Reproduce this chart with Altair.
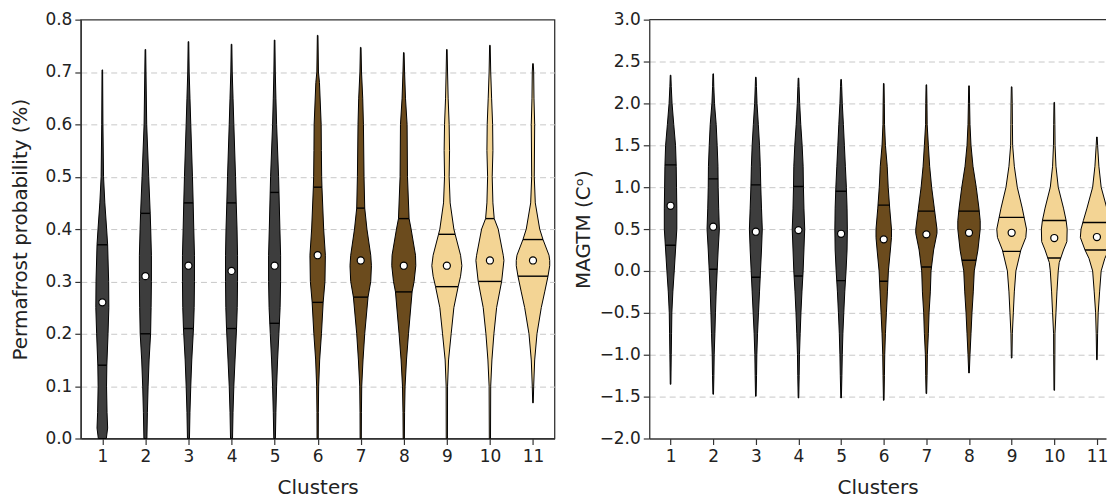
import altair as alt
import numpy as np
import pandas as pd

CLUSTERS = list(range(1, 12))
CLUSTER_COLORS = ["#3d3d3d"] * 5 + ["#6b4b1d"] * 3 + ["#f3d494"] * 3

# ---- Left panel: permafrost probability ----
# violin profiles: (value, half-width in reference pixels)
PF_PROFILES = [
    [(0, 4), (0.02, 5.3), (0.05, 4.7), (0.1, 4.2), (0.14, 4.5), (0.2, 5.7), (0.25, 6.5), (0.3, 6.3), (0.37, 5.3), (0.4, 4.3), (0.45, 2.5), (0.5, 1.2), (0.6, 0.6), (0.704, 0.3)],
    [(0, 1.5), (0.05, 2), (0.1, 2.7), (0.15, 3.7), (0.2, 5.2), (0.25, 5.7), (0.3, 6), (0.35, 6), (0.4, 5.3), (0.43, 4.8), (0.5, 3.3), (0.6, 1.3), (0.7, 0.6), (0.743, 0.3)],
    [(0, 1), (0.05, 1.5), (0.1, 2.3), (0.15, 3.3), (0.21, 5), (0.25, 5.7), (0.3, 6), (0.35, 6), (0.4, 5.3), (0.45, 4.7), (0.5, 4), (0.6, 2.3), (0.65, 1.5), (0.7, 0.7), (0.758, 0.3)],
    [(0, 1), (0.05, 1.5), (0.1, 2.3), (0.15, 3.5), (0.21, 5), (0.25, 5.7), (0.3, 6), (0.35, 6), (0.4, 5.5), (0.45, 4.7), (0.5, 4), (0.6, 2.3), (0.65, 1.5), (0.7, 0.7), (0.753, 0.3)],
    [(0, 0.8), (0.05, 1.3), (0.1, 2), (0.15, 3), (0.2, 4.3), (0.25, 5.5), (0.3, 6), (0.35, 6), (0.4, 5.3), (0.5, 4), (0.6, 2), (0.65, 1.3), (0.7, 0.7), (0.761, 0.3)],
    [(0, 0.6), (0.05, 0.7), (0.1, 1), (0.15, 2), (0.2, 3.8), (0.26, 5.5), (0.3, 7.3), (0.35, 7.7), (0.4, 6), (0.48, 4.3), (0.5, 4), (0.55, 3.7), (0.6, 3.5), (0.68, 1.8), (0.7, 0.8), (0.77, 0.3)],
    [(0, 0.6), (0.05, 0.7), (0.1, 1), (0.15, 2.3), (0.2, 4), (0.27, 7.3), (0.3, 10), (0.33, 10.7), (0.35, 10), (0.4, 6.2), (0.44, 4), (0.5, 3.3), (0.6, 2.7), (0.65, 2), (0.7, 0.8), (0.747, 0.3)],
    [(0, 0.6), (0.05, 0.8), (0.1, 1.3), (0.15, 2.7), (0.2, 4.7), (0.28, 8.3), (0.3, 10.3), (0.33, 12), (0.35, 11.7), (0.4, 7.3), (0.42, 5.3), (0.5, 3.7), (0.6, 3.3), (0.65, 1.7), (0.7, 0.8), (0.737, 0.3)],
    [(0, 0.6), (0.1, 0.7), (0.15, 1.7), (0.2, 4.3), (0.25, 7), (0.29, 11.3), (0.31, 13.7), (0.33, 15), (0.35, 13.7), (0.39, 8.3), (0.4, 7), (0.45, 3.3), (0.5, 2.3), (0.55, 2.7), (0.6, 2.3), (0.65, 1.3), (0.7, 0.7), (0.743, 0.3)],
    [(0, 0.6), (0.1, 0.8), (0.15, 2), (0.2, 4), (0.25, 6.7), (0.3, 11.7), (0.34, 14), (0.35, 13.3), (0.4, 8.3), (0.42, 4.3), (0.45, 3), (0.5, 2.3), (0.55, 3), (0.6, 2.7), (0.65, 1.7), (0.7, 0.8), (0.751, 0.3)],
    [(0.068, 0.3), (0.1, 0.7), (0.15, 1.7), (0.2, 4), (0.25, 8.3), (0.28, 11.7), (0.31, 15), (0.33, 16.7), (0.34, 16.7), (0.35, 16), (0.38, 10), (0.4, 6.7), (0.45, 2.3), (0.5, 1.3), (0.6, 1.7), (0.65, 1), (0.7, 0.7), (0.716, 0.3)],
]
PF_MEDIAN = [0.26, 0.31, 0.33, 0.32, 0.33, 0.35, 0.34, 0.33, 0.33, 0.34, 0.34]
PF_Q1 = [0.14, 0.20, 0.21, 0.21, 0.22, 0.26, 0.27, 0.28, 0.29, 0.30, 0.31]
PF_Q3 = [0.37, 0.43, 0.45, 0.45, 0.47, 0.48, 0.44, 0.42, 0.39, 0.42, 0.38]
PF_TICKS = [0.0, 0.1, 0.2, 0.3, 0.4, 0.5, 0.6, 0.7, 0.8]

# ---- Right panel: MAGTM ----
MT_PROFILES = [
    [(-1.353, 0.3), (-1.0, 0.7), (-0.75, 1), (-0.5, 1.3), (-0.25, 2.3), (0, 3.7), (0.25, 5), (0.5, 6.3), (0.75, 6.3), (1.0, 6), (1.25, 5.7), (1.5, 5), (1.75, 3.2), (2.0, 1.5), (2.2, 0.7), (2.337, 0.3)],
    [(-1.472, 0.3), (-1.25, 0.7), (-1.0, 1), (-0.75, 1.7), (-0.5, 2.3), (-0.25, 3), (0, 4), (0.25, 5), (0.5, 6.2), (0.75, 5.5), (1.0, 5), (1.25, 4.8), (1.5, 4), (1.75, 3), (2.0, 1.3), (2.2, 0.6), (2.353, 0.3)],
    [(-1.496, 0.3), (-1.25, 0.7), (-1.0, 1), (-0.75, 1.7), (-0.5, 2.7), (-0.25, 3.7), (0, 4.7), (0.25, 5.7), (0.5, 6.5), (0.75, 5.7), (1.0, 5), (1.25, 4.5), (1.5, 3.7), (1.75, 2.5), (2.0, 1.2), (2.2, 0.6), (2.313, 0.3)],
    [(-1.516, 0.3), (-1.25, 0.7), (-1.0, 1), (-0.75, 1.7), (-0.5, 2.5), (-0.25, 3.5), (0, 4.7), (0.25, 5.5), (0.5, 6.3), (0.75, 5.5), (1.0, 5), (1.25, 4.7), (1.5, 3.7), (1.75, 2.3), (2.0, 1.2), (2.2, 0.6), (2.302, 0.3)],
    [(-1.516, 0.3), (-1.25, 0.8), (-1.0, 1.2), (-0.75, 1.8), (-0.5, 2.7), (-0.25, 3.7), (0, 5), (0.25, 6), (0.5, 6.3), (0.75, 6), (1.0, 5.3), (1.25, 4.3), (1.5, 3.3), (1.75, 2.3), (2.0, 1.2), (2.2, 0.6), (2.286, 0.3)],
    [(-1.544, 0.3), (-1.25, 0.7), (-1.0, 1), (-0.75, 1.7), (-0.5, 2.7), (-0.25, 3.7), (0, 4.7), (0.25, 6.7), (0.4, 7.8), (0.5, 7.8), (0.75, 6), (1.0, 4.5), (1.25, 3.5), (1.5, 1.7), (1.75, 0.8), (2.0, 0.6), (2.238, 0.3)],
    [(-1.464, 0.3), (-1.25, 0.7), (-1.0, 1), (-0.75, 2), (-0.5, 2.7), (-0.25, 4), (0, 4.7), (0.25, 7.3), (0.45, 10.7), (0.5, 10.7), (0.75, 8), (1.0, 5.3), (1.25, 3.3), (1.5, 2), (1.75, 0.8), (2.0, 0.6), (2.222, 0.3)],
    [(-1.218, 0.3), (-1.0, 1), (-0.75, 2), (-0.5, 3), (-0.25, 4.3), (0, 5.3), (0.25, 9), (0.5, 11.3), (0.6, 11.3), (0.75, 10), (1.0, 7.3), (1.25, 4), (1.5, 2), (1.75, 1), (2.0, 0.6), (2.21, 0.3)],
    [(-1.04, 0.3), (-0.75, 0.7), (-0.5, 1.7), (-0.25, 2.7), (0, 4.3), (0.25, 9.3), (0.4, 14.3), (0.5, 15), (0.75, 10.7), (1.0, 5.7), (1.25, 2.7), (1.5, 1), (1.75, 0.8), (2.0, 0.6), (2.198, 0.3)],
    [(-1.425, 0.3), (-1.0, 0.6), (-0.75, 0.7), (-0.5, 1.7), (-0.25, 2.7), (0, 4), (0.1, 5), (0.25, 9.3), (0.35, 12.7), (0.5, 13), (0.6, 12), (0.75, 9.3), (1.0, 4), (1.25, 1.7), (1.5, 0.8), (1.75, 0.6), (2.012, 0.3)],
    [(-1.06, 0.3), (-0.75, 0.7), (-0.5, 1.3), (-0.25, 2.7), (0, 4.3), (0.15, 8), (0.25, 12), (0.4, 16.7), (0.5, 16), (0.6, 13.7), (0.75, 10), (1.0, 4.3), (1.25, 2), (1.5, 0.7), (1.599, 0.3)],
]
MT_MEDIAN = [0.778, 0.528, 0.468, 0.488, 0.444, 0.377, 0.437, 0.456, 0.456, 0.393, 0.405]
MT_Q1 = [0.306, 0.02, -0.075, -0.06, -0.115, -0.123, 0.048, 0.127, 0.234, 0.155, 0.25]
MT_Q3 = [1.266, 1.099, 1.028, 1.008, 0.952, 0.786, 0.714, 0.714, 0.639, 0.603, 0.579]
MT_TICKS = [-2.0, -1.5, -1.0, -0.5, 0.0, 0.5, 1.0, 1.5, 2.0, 2.5, 3.0]

FONT = "DejaVu Sans"
PX_PER_CLUSTER = 43.0
BORDER = "#333333"


def panel(profiles, medians, q1, q3, ticks, ytitle, width, height, xmax,
          title_pad, framed):
    rows = []
    for c, prof in zip(CLUSTERS, profiles):
        for v, w in prof:
            hw = w / PX_PER_CLUSTER
            rows.append({"cluster": c, "value": v, "lo": c - hw, "hi": c + hw})
    vdf = pd.DataFrame(rows)

    qrows = []
    for c, prof, a, b in zip(CLUSTERS, profiles, q1, q3):
        ys = [p[0] for p in prof]
        ws = [p[1] for p in prof]
        for q in (a, b):
            hw = float(np.interp(q, ys, ws)) / PX_PER_CLUSTER
            qrows.append({"cluster": c, "q": q, "lo": c - hw, "hi": c + hw})
    qdf = pd.DataFrame(qrows)
    mdf = pd.DataFrame({"cluster": CLUSTERS, "median": medians})

    clip = not framed
    lo_t, hi_t = ticks[0], ticks[-1]
    xscale = alt.Scale(domain=[0.5, xmax], nice=False, zero=False)
    yscale = alt.Scale(domain=[lo_t, hi_t], nice=False, zero=False)
    xaxis = alt.Axis(values=CLUSTERS, format="d", title="Clusters", grid=False,
                     tickSize=6, labelFontSize=17, titleFontSize=20, titlePadding=13,
                     labelPadding=4)
    yaxis = alt.Axis(values=ticks, title=ytitle, grid=True,
                     labelExpr="replace(format(datum.value, '.1f'), '-', '\u2212')",
                     gridDash=[6, 4], gridColor="#c8c8c8", gridWidth=1,
                     gridOpacity={"condition": {"test": f"datum.value <= {lo_t} || datum.value >= {hi_t}", "value": 0}, "value": 1},
                     tickSize=6, labelFontSize=17, titleFontSize=20, titlePadding=title_pad,
                     labelPadding=3)

    violins = alt.Chart(vdf).mark_area(orient="horizontal", stroke="black",
                                       strokeWidth=1, opacity=1, fillOpacity=1,
                                       clip=clip).encode(
        y=alt.Y("value:Q", scale=yscale, axis=yaxis),
        x=alt.X("lo:Q", scale=xscale, axis=xaxis),
        x2="hi:Q",
        detail="cluster:N",
        color=alt.Color("cluster:N", scale=alt.Scale(domain=CLUSTERS, range=CLUSTER_COLORS), legend=None),
    )
    quart = alt.Chart(qdf).mark_rule(color="black", strokeWidth=1.4, clip=clip).encode(
        x="lo:Q", x2="hi:Q", y="q:Q")
    meds = alt.Chart(mdf).mark_point(filled=True, fill="white", stroke="black",
                                     strokeWidth=1.2, size=50, opacity=1,
                                     shape="circle", clip=clip).encode(
        x="cluster:Q", y="median:Q")
    layers = [violins, quart, meds]
    if not framed:
        top = alt.Chart(pd.DataFrame({"top": [hi_t]})).mark_rule(
            color=BORDER, strokeWidth=1.3).encode(y="top:Q")
        layers.append(top)
    lay = alt.layer(*layers).properties(width=width, height=height)
    if not framed:
        lay = lay.properties(view=alt.ViewBackground(stroke="transparent"))
    return lay


left = panel(PF_PROFILES, PF_MEDIAN, PF_Q1, PF_Q3, PF_TICKS,
             "Permafrost probability (%)", 475, 420, 11.5, 14, True)
right = panel(MT_PROFILES, MT_MEDIAN, MT_Q1, MT_Q3, MT_TICKS,
              "MAGTM (C\u1d52)", 458, 420, 0.5 + 458 / 42.75, 6, False)

chart = alt.hconcat(left, right, spacing=17).properties(
    padding={"left": 2, "top": 1, "right": 0, "bottom": 0}
).configure(font=FONT).configure_view(
    stroke=BORDER, strokeWidth=1.3
).configure_axis(
    domainColor=BORDER, domainWidth=1.3, tickColor=BORDER, tickWidth=1.2,
    labelColor="#222222", titleColor="#222222", titleFontWeight="normal",
    labelFont=FONT, titleFont=FONT
)

chart.save("out.html", embed_options={"renderer": "svg", "actions": False})
